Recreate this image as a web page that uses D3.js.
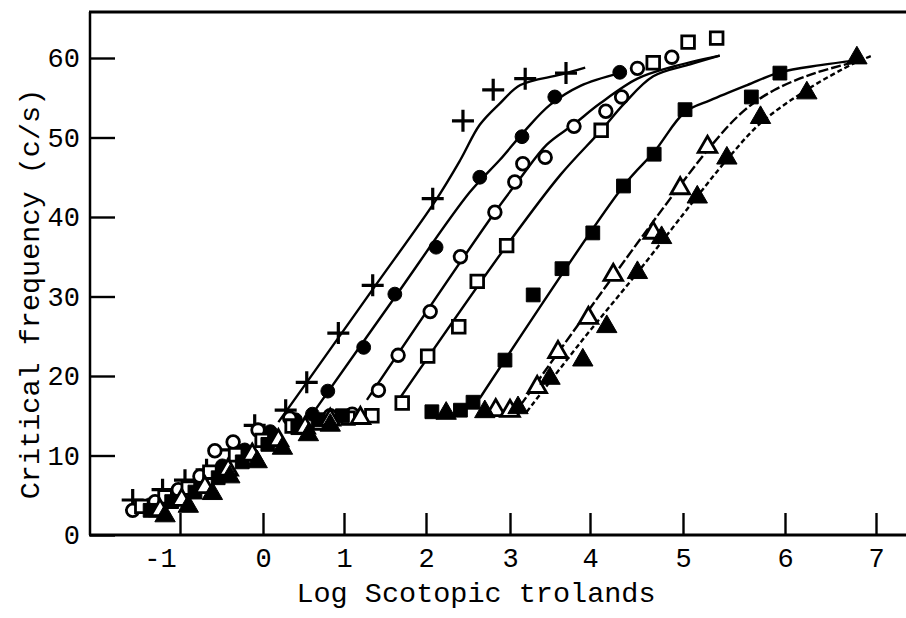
<!DOCTYPE html>
<html>
<head>
<meta charset="utf-8">
<script src="https://cdn.jsdelivr.net/npm/d3@7"></script>
<style>
  html, body { margin: 0; padding: 0; background: #fff; }
  svg { display: block; }
  text { font-family: "Liberation Mono", "Courier New", monospace; fill: #000; }
</style>
</head>
<body>
<svg id="chart" width="906" height="618"></svg>
<script>
// Axis ticks
const xTicks = [-1, 0, 1, 2, 3, 4, 5, 6, 7];
const xTickLabels = ["-1", "0", "1", "2", "3", "4", "5", "6", "7"];
const yTicks = [0, 10, 20, 30, 40, 50, 60];
const yTickLabels = ["0", "10", "20", "30", "40", "50", "60"];

// Measured points: [log scotopic trolands, critical frequency c/s]
const crossPts = [[-1.57,4.4],[-1.21,5.7],[-0.94,6.9],[-0.68,8.2],[-0.40,10.7],[-0.10,13.8],
  [0.28,15.7],[0.54,19.2],[0.93,25.4],[1.35,31.4],[2.08,42.3],[2.44,52.1],[2.80,56.0],[3.19,57.4],[3.70,58.1]];
const dotPts = [[-1.36,3.8],[-1.06,4.9],[-0.78,6.5],[-0.49,8.7],[-0.22,10.7],[0.09,13.0],[0.40,14.5],
  [0.61,15.2],[0.80,18.1],[1.24,23.6],[1.62,30.3],[2.12,36.2],[2.64,45.0],[3.15,50.1],[3.56,55.1],[4.32,58.2]];
const ringPts = [[-1.57,3.1],[-1.30,4.2],[-1.02,5.7],[-0.76,7.4],[-0.58,10.6],[-0.36,11.7],[-0.06,13.2],
  [0.33,14.7],[0.83,15.0],[1.10,15.2],[1.42,18.2],[1.66,22.6],[2.05,28.1],[2.41,35.0],[2.82,40.6],
  [3.06,44.4],[3.16,46.7],[3.44,47.5],[3.80,51.4],[4.17,53.3],[4.34,55.1],[4.51,58.7],[4.88,60.1]];
const boxPts = [[-1.46,3.6],[-1.18,4.8],[-0.90,5.9],[-0.64,7.9],[-0.33,10.1],[-0.01,11.9],[0.36,13.7],
  [0.70,14.1],[1.05,14.7],[1.34,15.0],[1.71,16.6],[2.02,22.5],[2.39,26.2],[2.61,31.9],[2.96,36.4],
  [4.12,50.9],[4.68,59.4],[5.05,62.0],[5.33,62.5]];
const blockPts = [[-1.36,3.1],[-1.10,4.2],[-0.82,5.4],[-0.54,7.2],[-0.25,9.2],[0.06,11.4],[0.43,13.5],
  [0.68,14.5],[0.98,15.0],[2.07,15.5],[2.41,15.7],[2.56,16.7],[2.94,22.0],[3.29,30.2],[3.65,33.5],
  [4.03,38.0],[4.36,43.9],[4.69,47.9],[5.02,53.5],[5.67,55.1],[5.95,58.1]];
const deltaPts = [[-1.24,3.1],[-0.98,4.4],[-0.70,6.0],[-0.42,8.2],[-0.13,10.1],[0.19,11.9],[0.52,13.5],
  [0.83,14.5],[1.20,14.7],[2.83,15.7],[3.00,15.6],[3.34,18.6],[3.60,23.0],[3.98,27.3],[4.25,32.7],
  [4.68,38.0],[4.97,43.6],[5.24,48.8]];
const wedgePts = [[-1.18,2.4],[-0.90,3.6],[-0.61,5.2],[-0.40,7.3],[-0.07,9.2],[0.24,10.9],[0.56,12.6],
  [0.83,13.8],[2.24,15.3],[2.70,15.5],[3.10,16.0],[3.50,19.7],[3.91,22.0],[4.18,26.2],[4.51,33.0],
  [4.77,37.4],[5.14,42.5],[5.43,47.4],[5.76,52.5],[6.24,55.6],[6.79,60.0]];

// Fitted curves drawn through each series
const crossFit = [[0.19,14.2],[0.54,19.2],[1.35,30.9],[2.11,42.0],[2.41,47.2],[2.64,51.6],[2.88,54.3],[3.13,56.6],[3.63,57.9],[3.94,58.8]];
const dotFit = [[0.58,14.8],[1.62,29.9],[2.52,43.1],[2.88,47.2],[3.19,50.9],[3.50,54.1],[3.88,56.5],[4.32,58.1]];
const ringFit = [[1.28,17.0],[2.82,40.6],[3.13,44.9],[3.46,49.1],[3.79,51.6],[4.11,54.3],[4.51,57.4],[4.89,58.9],[5.36,60.3]];
const boxFit = [[1.68,17.2],[2.96,36.4],[3.63,45.3],[4.12,50.9],[4.37,54.3],[4.68,57.7],[5.07,59.2],[5.36,60.3]];
const blockFit = [[2.64,17.2],[4.36,43.9],[4.69,48.2],[5.02,53.2],[5.27,54.7],[5.63,56.6],[5.95,58.2],[6.39,59.1],[6.79,59.7]];
const deltaFit = [[3.13,16.3],[5.24,48.4],[5.61,53.5],[5.90,56.0],[6.33,58.1],[6.77,59.5]];
const wedgeFit = [[3.21,15.5],[3.88,24.2],[4.51,33.0],[5.14,42.6],[5.43,47.2],[5.76,51.8],[6.24,56.0],[6.77,59.4],[6.96,60.3]];

const series = [
  { pts: crossPts, fit: crossFit, mark: "plus",  dash: null },
  { pts: dotPts,   fit: dotFit,   mark: "dot",   dash: null },
  { pts: ringPts,  fit: ringFit,  mark: "ring",  dash: null },
  { pts: boxPts,   fit: boxFit,   mark: "box",   dash: null },
  { pts: blockPts, fit: blockFit, mark: "block", dash: null },
  { pts: deltaPts, fit: deltaFit, mark: "delta", dash: "10,3" },
  { pts: wedgePts, fit: wedgeFit, mark: "wedge", dash: "5,3" }
];

const svg = d3.select("#chart");
const frameRight = 906, frameLeft = 90, frameTop = 12;

// The printed abscissa is hand-ruled, so tick spacing varies slightly
const x = d3.scaleLinear().domain(xTicks).range([180, 263, 344, 426, 510, 590, 683, 785, 876]);
const y = d3.scaleLinear().domain([0, 60]).range([535, 58]);

// Frame
svg.append("line").attr("x1", frameLeft - 1).attr("x2", frameRight).attr("y1", frameTop).attr("y2", frameTop)
  .attr("stroke", "#000").attr("stroke-width", 3);
svg.append("line").attr("x1", frameLeft).attr("x2", frameLeft).attr("y1", frameTop).attr("y2", y(0))
  .attr("stroke", "#000").attr("stroke-width", 2.5);
svg.append("line").attr("x1", frameLeft - 1).attr("x2", frameRight).attr("y1", y(0)).attr("y2", y(0))
  .attr("stroke", "#000").attr("stroke-width", 3);

// Axes: ticks point into the plot
const gx = svg.append("g").attr("transform", `translate(0,${y(0)})`)
  .call(d3.axisBottom(x).tickValues(xTicks).tickFormat((d, i) => xTickLabels[i])
    .tickSize(-22).tickPadding(13));
const gy = svg.append("g").attr("transform", `translate(${frameLeft},0)`)
  .call(d3.axisLeft(y).tickValues(yTicks).tickFormat((d, i) => yTickLabels[i])
    .tickSize(-25).tickPadding(10));
[gx, gy].forEach(g => {
  g.select(".domain").remove();
  g.attr("font-family", null).attr("font-size", null);
  g.selectAll(".tick line").attr("stroke", "#000").attr("stroke-width", 2.4);
  g.selectAll(".tick text").style("font-size", "27px").attr("fill", "#000");
});
gx.selectAll(".tick text").filter(d => d === -1).attr("dx", -20);

// Axis titles
svg.append("text").attr("x", 476).attr("y", 602).attr("text-anchor", "middle")
  .style("font-size", "28.5px").text("Log Scotopic trolands");
svg.append("text").attr("transform", "translate(39,294) rotate(-90)").attr("text-anchor", "middle")
  .style("font-size", "28.5px").text("Critical frequency (c/s)");

// Fitted curves
const line = d3.line().x(d => x(d[0])).y(d => y(d[1])).curve(d3.curveCatmullRom.alpha(0.5));
svg.append("g").selectAll("path").data(series).join("path")
  .attr("d", s => line(s.fit))
  .attr("fill", "none").attr("stroke", "#000").attr("stroke-width", 2.4)
  .attr("stroke-dasharray", s => s.dash);

// Markers
const sym = {
  dot:   d3.symbol(d3.symbolCircle, 150)(),
  ring:  d3.symbol(d3.symbolCircle, 125)(),
  box:   d3.symbol(d3.symbolSquare, 160)(),
  block: d3.symbol(d3.symbolSquare, 190)(),
  delta: d3.symbol(d3.symbolTriangle, 150)(),
  wedge: d3.symbol(d3.symbolTriangle, 180)(),
  plus:  "M-11,0H11M0,-11V11"
};
const filled = { dot: true, block: true, wedge: true };
series.forEach(s => {
  svg.append("g").selectAll("path").data(s.pts).join("path")
    .attr("transform", d => `translate(${x(d[0])},${y(d[1])})`)
    .attr("d", sym[s.mark])
    .attr("fill", s.mark === "plus" ? "none" : (filled[s.mark] ? "#000" : "#fff"))
    .attr("stroke", "#000")
    .attr("stroke-width", s.mark === "plus" ? 3.2 : (filled[s.mark] ? 1 : 2.8));
});
</script>
</body>
</html>
